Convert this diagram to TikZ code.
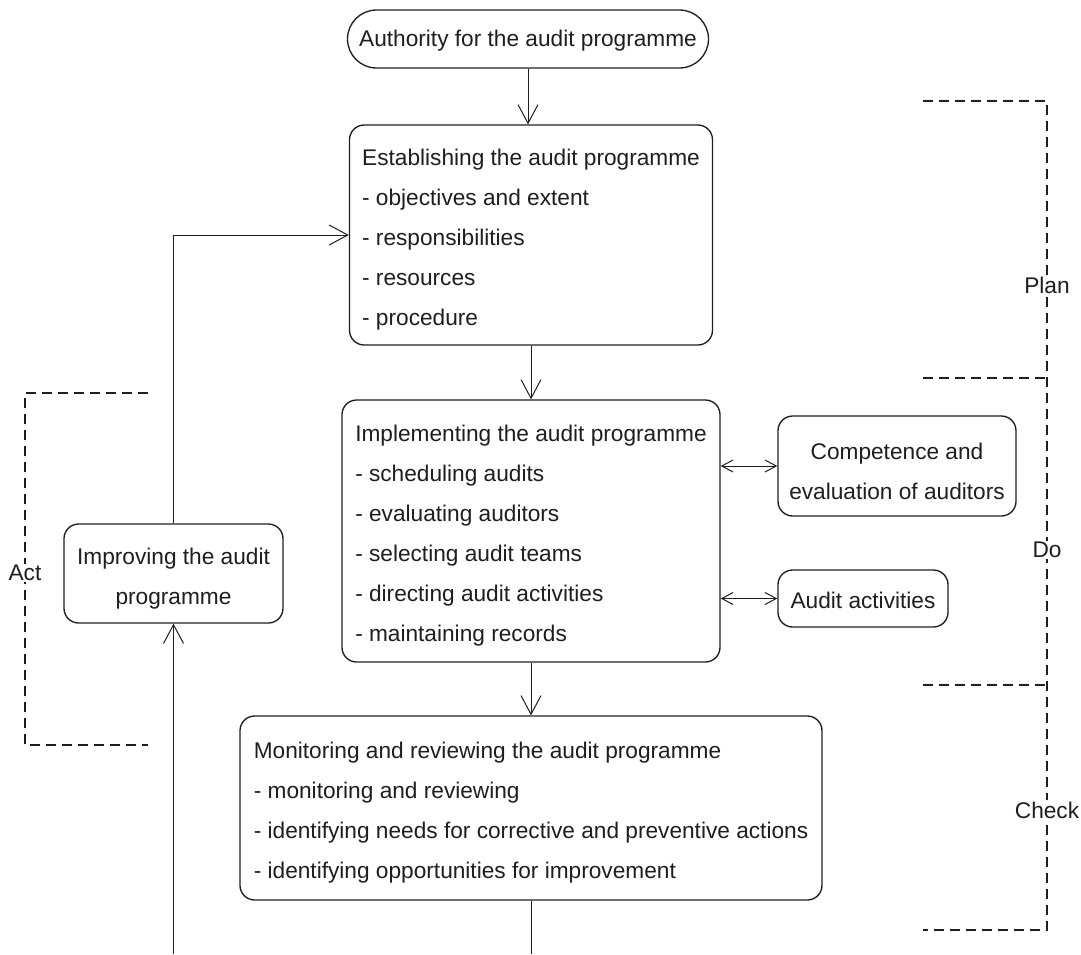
\documentclass[tikz,border=0pt]{standalone}
\usepackage{fontspec}
\setmainfont{Liberation Sans}
\usetikzlibrary{arrows.meta,calc}
\definecolor{ink}{HTML}{1E1E1E}
% taller first line, so that a text block sits a little lower in its box
\newcommand\firstpad{\rule{0pt}{20pt}}
\begin{document}
\begin{tikzpicture}[x=0.75pt,y=-0.75pt,
  font=\fontsize{17}{30}\selectfont,
  every node/.style={text=ink},
  box/.style={draw=ink, line width=1pt, rounded corners=11pt, inner sep=0pt},
  listbox/.style={box, align=left},
  centerbox/.style={box, align=center},
  flow/.style={draw=ink, line width=0.75pt, -{Straight Barb[length=14pt,width=15pt,line width=0.75pt]}},
  link/.style={draw=ink, line width=0.75pt,
    {Straight Barb[length=8.5pt,width=9pt,line width=0.75pt]}-{Straight Barb[length=8.5pt,width=9pt,line width=0.75pt]}},
  plain/.style={draw=ink, line width=0.75pt},
  phase/.style={draw=ink, line width=0.9pt, dash pattern=on 7.5pt off 4.5pt},
  phaselabel/.style={fill=white, inner sep=1pt}
]
\useasboundingbox (0,0) rectangle (1081,954);

% main flow boxes
\node[box, rounded corners=21.75pt, minimum width=270.75pt, minimum height=43.5pt]
  (auth) at (528,39) {\rule{0pt}{15pt}Authority for the audit programme};
\node[listbox, minimum width=272.25pt, minimum height=165pt] (est) at (531,235)
  {\firstpad Establishing the audit programme\\- objectives and extent\\- responsibilities\\- resources\\- procedure};
\node[listbox, minimum width=283.5pt, minimum height=196.5pt] (imp) at (531,531)
  {\firstpad Implementing the audit programme\\- scheduling audits\\- evaluating auditors\\- selecting audit teams\\- directing audit activities\\- maintaining records};
\node[listbox, minimum width=436.5pt, minimum height=138pt] (mon) at (531,808)
  {\firstpad Monitoring and reviewing the audit programme\\- monitoring and reviewing\\- identifying needs for corrective and preventive actions\\- identifying opportunities for improvement};

% side boxes
\node[centerbox, minimum width=178.5pt, minimum height=75pt] (comp) at (897,466)
  {\firstpad Competence and\\evaluation of auditors};
\node[centerbox, minimum width=127.5pt, minimum height=42.75pt] (acts) at (863,598.5)
  {\rule{0pt}{15pt}Audit activities};
\node[centerbox, minimum width=164.25pt, minimum height=74.25pt] (imprv) at (173.5,573.5)
  {\firstpad Improving the audit\\programme};

% loose ends at the lower edge
\coordinate (monout) at (531,954);
\coordinate (imprvin) at (173.5,954);

% connectors
\draw[flow] (auth.south) -- (auth.south |- est.north);
\draw[flow] (est.south) -- (imp.north);
\draw[flow] (imp.south) -- (mon.north);
\draw[link] (imp.east |- comp.west) -- (comp.west);
\draw[link] (imp.east |- acts.west) -- (acts.west);
\draw[plain] (mon.south) -- (monout);
\draw[flow] (imprvin) -- (imprv.south);
\draw[flow] (imprv.north) |- (est.west);

% PDCA phase brackets
\draw[phase] (923,101) -- (1047,101) -- (1047,930) -- (923,930);
\draw[phase] (923,378) -- (1047,378);
\draw[phase] (923,685) -- (1047,685);
\draw[phase] (148,393) -- (25,393) -- (25,745) -- (148,745);

\node[phaselabel] (plan) at (1047,285) {Plan};
\node[phaselabel] (do) at (1047,550) {Do};
\node[phaselabel] (check) at (1047,810) {Check};
\node[phaselabel] (act) at (25,573) {Act};
\end{tikzpicture}
\end{document}
